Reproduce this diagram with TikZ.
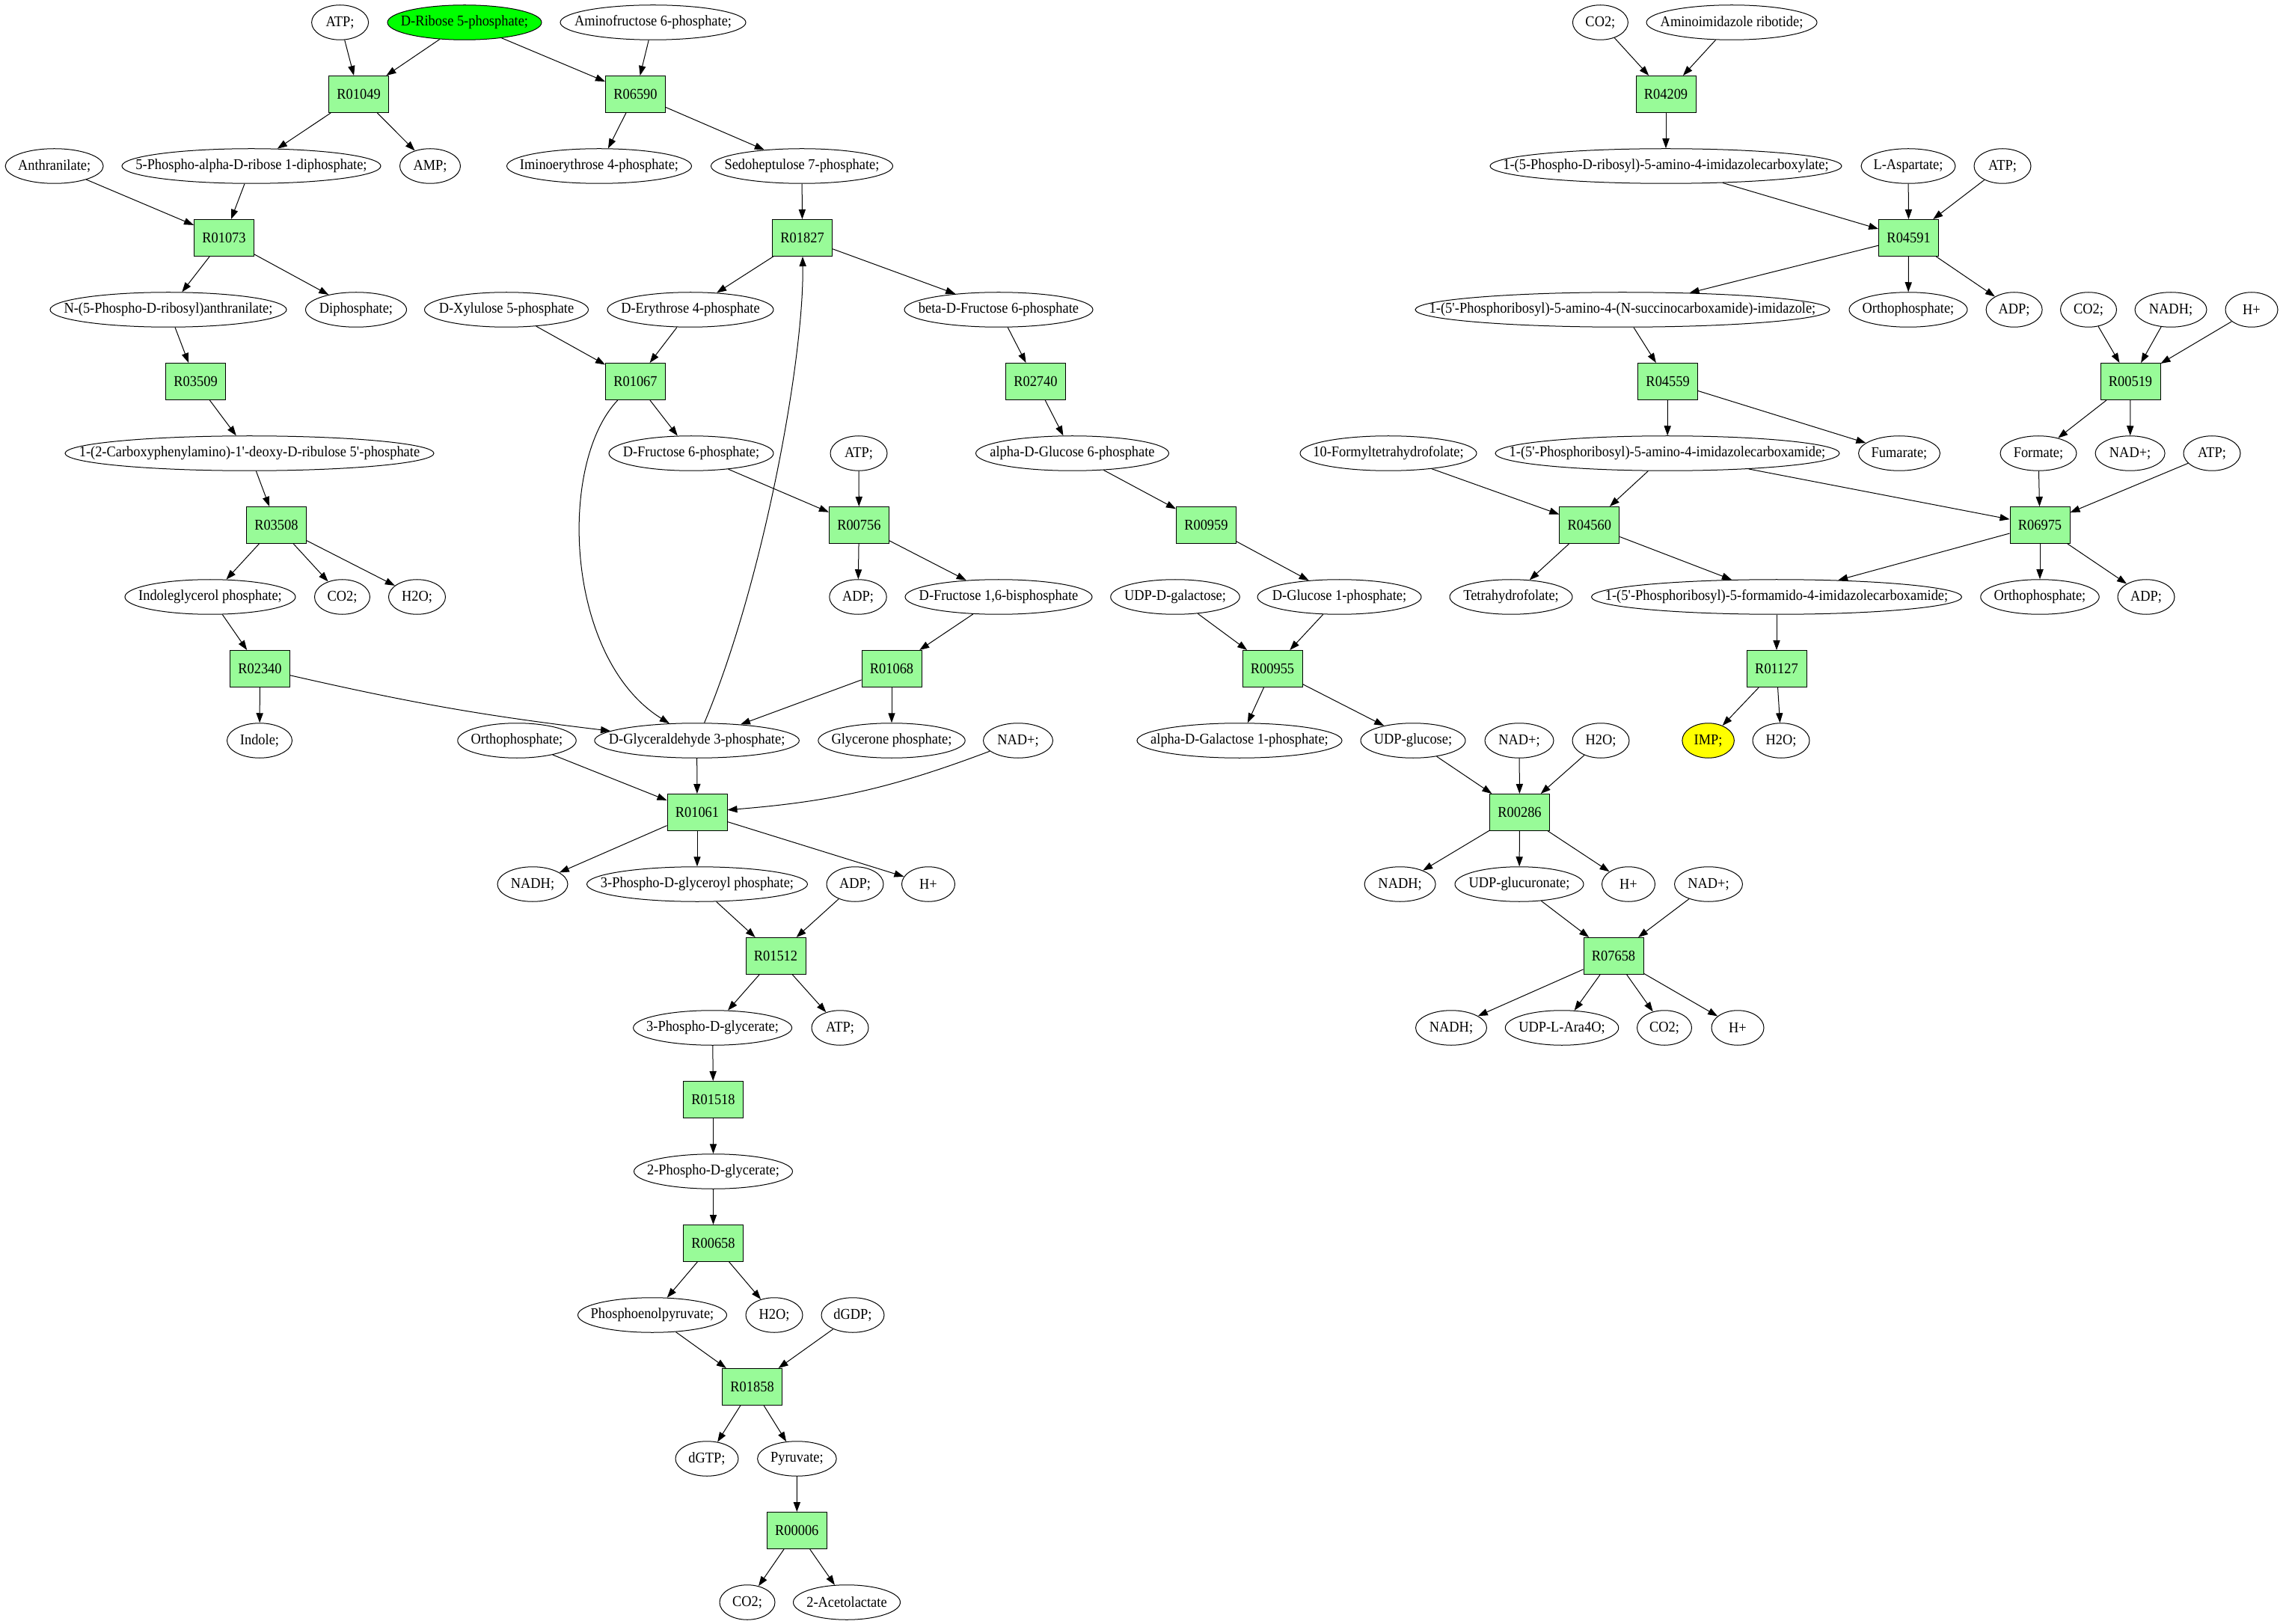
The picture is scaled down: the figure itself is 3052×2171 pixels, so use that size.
\documentclass[tikz,border=0pt]{standalone}
\usepackage{fontspec}
\setmainfont{Liberation Serif}[FakeStretch=0.92]
\usetikzlibrary{shapes.geometric,arrows.meta}
\definecolor{boxgreen}{HTML}{98FB98}
\definecolor{rgreen}{HTML}{00FF00}
\definecolor{impyellow}{HTML}{FFFF00}
\newcommand\lbl[1]{\makebox[0pt]{#1}}
\newcommand\qs{\textquotesingle}
\begin{document}
\begin{tikzpicture}[x=0.5pt,y=-0.5pt,
  met/.style={ellipse,draw,line width=0.5pt,inner sep=0pt,minimum height=23.25pt,font=\fontsize{10}{12}\selectfont},
  ew/.style={minimum width=#1*0.5pt},
  rxn/.style={rectangle,draw,fill=boxgreen,line width=0.5pt,inner sep=0pt,minimum width=40pt,minimum height=24.5pt,font=\fontsize{10}{12}\selectfont},
  arr/.style={line width=0.5pt,-{Triangle[length=6.5pt,width=4.6pt]}}]
\useasboundingbox (0,0) rectangle (3052,2171);
% row 0
\node[met,ew=76] (atpA) at (454.6,30) {\lbl{ATP;}};
\node[met,ew=206,fill=rgreen] (r5p) at (621,30) {\lbl{D-Ribose 5-phosphate;}};
\node[met,ew=248] (af6p) at (873,30) {\lbl{Aminofructose 6-phosphate;}};
\node[met,ew=74] (co2A) at (2139.4,30) {\lbl{CO2;}};
\node[met,ew=228] (air) at (2315,30) {\lbl{Aminoimidazole ribotide;}};
% row 1
\node[rxn] (R01049) at (479.6,126) {R01049};
\node[rxn] (R06590) at (849.5,126) {R06590};
\node[rxn] (R04209) at (2227,126) {R04209};
% row 2
\node[met,ew=131] (anth) at (72.6,222) {\lbl{Anthranilate;}};
\node[met,ew=346] (prpp) at (336,222) {\lbl{5-Phospho-alpha-D-ribose 1-diphosphate;}};
\node[met,ew=81] (amp) at (575,222) {\lbl{AMP;}};
\node[met,ew=247] (ie4p) at (801,222) {\lbl{Iminoerythrose 4-phosphate;}};
\node[met,ew=243] (s7p) at (1072,222) {\lbl{Sedoheptulose 7-phosphate;}};
\node[met,ew=470] (cair) at (2227,222) {\lbl{1-(5-Phospho-D-ribosyl)-5-amino-4-imidazolecarboxylate;}};
\node[met,ew=126] (asp) at (2551,222) {\lbl{L-Aspartate;}};
\node[met,ew=76] (atpB) at (2677,222) {\lbl{ATP;}};
% row 3
\node[rxn] (R01073) at (299.5,318) {R01073};
\node[rxn] (R01827) at (1072.6,318) {R01827};
\node[rxn] (R04591) at (2551.6,318) {R04591};
% row 4
\node[met,ew=316] (prant) at (225,414) {\lbl{N-(5-Phospho-D-ribosyl)anthranilate;}};
\node[met,ew=135] (ppi) at (476,414) {\lbl{Diphosphate;}};
\node[met,ew=219] (xu5p) at (677,414) {\lbl{D-Xylulose 5-phosphate}};
\node[met,ew=222] (e4p) at (923,414) {\lbl{D-Erythrose 4-phosphate}};
\node[met,ew=252] (bf6p) at (1335,414) {\lbl{beta-D-Fructose 6-phosphate}};
\node[met,ew=554] (saicar) at (2169,414) {\lbl{1-(5\qs-Phosphoribosyl)-5-amino-4-(N-succinocarboxamide)-imidazole;}};
\node[met,ew=158] (piA) at (2551,414) {\lbl{Orthophosphate;}};
\node[met,ew=75] (adpA) at (2692.6,414) {\lbl{ADP;}};
\node[met,ew=75] (co2B) at (2792,414) {\lbl{CO2;}};
\node[met,ew=96] (nadhA) at (2902,414) {\lbl{NADH;}};
\node[met,ew=70] (hA) at (3010,414) {\lbl{H+}};
% row 5
\node[rxn] (R03509) at (261.6,510) {R03509};
\node[rxn] (R01067) at (849.5,510) {R01067};
\node[rxn] (R02740) at (1384.4,510) {R02740};
\node[rxn] (R04559) at (2229.6,510) {R04559};
\node[rxn] (R00519) at (2848,510) {R00519};
% row 6
\node[met,ew=493] (cdrp) at (333.5,606) {\lbl{1-(2-Carboxyphenylamino)-1\qs-deoxy-D-ribulose 5\qs-phosphate}};
\node[met,ew=220] (f6p) at (924,606) {\lbl{D-Fructose 6-phosphate;}};
\node[met,ew=76] (atpC) at (1148,606) {\lbl{ATP;}};
\node[met,ew=258] (ag6p) at (1433.5,606) {\lbl{alpha-D-Glucose 6-phosphate}};
\node[met,ew=236] (fthf) at (1856,606) {\lbl{10-Formyltetrahydrofolate;}};
\node[met,ew=460] (aicar) at (2229,606) {\lbl{1-(5\qs-Phosphoribosyl)-5-amino-4-imidazolecarboxamide;}};
\node[met,ew=109] (fum) at (2539,606) {\lbl{Fumarate;}};
\node[met,ew=102] (formate) at (2725,606) {\lbl{Formate;}};
\node[met,ew=93] (nadA) at (2847.6,606) {\lbl{NAD+;}};
\node[met,ew=76] (atpD) at (2957,606) {\lbl{ATP;}};
% row 7
\node[rxn] (R03508) at (369.4,702) {R03508};
\node[rxn] (R00756) at (1148.4,702) {R00756};
\node[rxn] (R00959) at (1612.4,702) {R00959};
\node[rxn] (R04560) at (2124.8,702) {R04560};
\node[rxn] (R06975) at (2727,702) {R06975};
% row 8
\node[met,ew=228] (igp) at (281,798) {\lbl{Indoleglycerol phosphate;}};
\node[met,ew=74] (co2C) at (457.5,798) {\lbl{CO2;}};
\node[met,ew=76] (h2oA) at (557.5,798) {\lbl{H2O;}};
\node[met,ew=76.5] (adpB) at (1147,798) {\lbl{ADP;}};
\node[met,ew=250] (fbp) at (1335,798) {\lbl{D-Fructose 1,6-bisphosphate}};
\node[met,ew=172.6] (udpgal) at (1571,798) {\lbl{UDP-D-galactose;}};
\node[met,ew=219] (g1p) at (1790.5,798) {\lbl{D-Glucose 1-phosphate;}};
\node[met,ew=164] (thf) at (2020,798) {\lbl{Tetrahydrofolate;}};
\node[met,ew=495] (faicar) at (2375,798) {\lbl{1-(5\qs-Phosphoribosyl)-5-formamido-4-imidazolecarboxamide;}};
\node[met,ew=158.5] (piB) at (2727,798) {\lbl{Orthophosphate;}};
\node[met,ew=76] (adpC) at (2869,798) {\lbl{ADP;}};
% row 9
\node[rxn] (R02340) at (347.5,894) {R02340};
\node[rxn] (R01068) at (1192,894) {R01068};
\node[rxn] (R00955) at (1701,894) {R00955};
\node[rxn] (R01127) at (2375,894) {R01127};
% row 10
\node[met,ew=87] (indole) at (347,990) {\lbl{Indole;}};
\node[met,ew=158.5] (piC) at (691,990) {\lbl{Orthophosphate;}};
\node[met,ew=273.6] (gap) at (931.6,990) {\lbl{D-Glyceraldehyde 3-phosphate;}};
\node[met,ew=196.4] (dhap) at (1192,990) {\lbl{Glycerone phosphate;}};
\node[met,ew=93] (nadB) at (1361,990) {\lbl{NAD+;}};
\node[met,ew=274] (agal1p) at (1657,990) {\lbl{alpha-D-Galactose 1-phosphate;}};
\node[met,ew=140] (udpglc) at (1889,990) {\lbl{UDP-glucose;}};
\node[met,ew=92] (nadC) at (2031,990) {\lbl{NAD+;}};
\node[met,ew=76] (h2oB) at (2140,990) {\lbl{H2O;}};
\node[met,ew=69.5,fill=impyellow] (imp) at (2283.6,990) {\lbl{IMP;}};
\node[met,ew=76] (h2oC) at (2381,990) {\lbl{H2O;}};
% row 11
\node[rxn] (R01061) at (932,1086) {R01061};
\node[rxn] (R00286) at (2031.5,1086) {R00286};
% row 12
\node[met,ew=94] (nadhB) at (712,1182) {\lbl{NADH;}};
\node[met,ew=295] (bpg) at (932,1182) {\lbl{3-Phospho-D-glyceroyl phosphate;}};
\node[met,ew=76] (adpD) at (1143,1182) {\lbl{ADP;}};
\node[met,ew=71] (hB) at (1241,1182) {\lbl{H+}};
\node[met,ew=95] (nadhC) at (1871.6,1182) {\lbl{NADH;}};
\node[met,ew=172] (udpgca) at (2031,1182) {\lbl{UDP-glucuronate;}};
\node[met,ew=71] (hC) at (2177,1182) {\lbl{H+}};
\node[met,ew=91] (nadD) at (2284,1182) {\lbl{NAD+;}};
% row 13
\node[rxn] (R01512) at (1037,1278) {R01512};
\node[rxn] (R07658) at (2157,1278) {R07658};
% row 14
\node[met,ew=212] (pg3) at (952.6,1374) {\lbl{3-Phospho-D-glycerate;}};
\node[met,ew=76] (atpE) at (1123,1374) {\lbl{ATP;}};
\node[met,ew=95] (nadhD) at (1940,1374) {\lbl{NADH;}};
\node[met,ew=151.5] (ara4o) at (2088,1374) {\lbl{UDP-L-Ara4O;}};
\node[met,ew=73] (co2D) at (2225,1374) {\lbl{CO2;}};
\node[met,ew=70] (hD) at (2323,1374) {\lbl{H+}};
% rows 15-22
\node[rxn] (R01518) at (953.5,1470) {R01518};
\node[met,ew=212] (pg2) at (953.5,1566) {\lbl{2-Phospho-D-glycerate;}};
\node[rxn] (R00658) at (953.5,1662) {R00658};
\node[met,ew=199] (pep) at (872,1758) {\lbl{Phosphoenolpyruvate;}};
\node[met,ew=76] (h2oD) at (1035,1758) {\lbl{H2O;}};
\node[met,ew=84] (dgdp) at (1140,1758) {\lbl{dGDP;}};
\node[rxn] (R01858) at (1005.6,1854) {R01858};
\node[met,ew=84] (dgtp) at (945,1950) {\lbl{dGTP;}};
\node[met,ew=105.6] (pyr) at (1065.4,1950) {\lbl{Pyruvate;}};
\node[rxn] (R00006) at (1065.3,2046) {R00006};
\node[met,ew=74] (co2E) at (999,2142) {\lbl{CO2;}};
\node[met,ew=143] (acl) at (1132,2142) {\lbl{2-Acetolactate}};
% edges
\draw[arr] (atpA) -- (R01049);
\draw[arr] (r5p) -- (R01049);
\draw[arr] (r5p) -- (R06590);
\draw[arr] (af6p) -- (R06590);
\draw[arr] (R01049) -- (prpp);
\draw[arr] (R01049) -- (amp);
\draw[arr] (R06590) -- (ie4p);
\draw[arr] (R06590) -- (s7p);
\draw[arr] (anth) -- (R01073);
\draw[arr] (prpp) -- (R01073);
\draw[arr] (s7p) -- (R01827);
\draw[arr] (R01073) -- (prant);
\draw[arr] (R01073) -- (ppi);
\draw[arr] (R01827) -- (e4p);
\draw[arr] (R01827) -- (bf6p);
\draw[arr] (prant) -- (R03509);
\draw[arr] (xu5p) -- (R01067);
\draw[arr] (e4p) -- (R01067);
\draw[arr] (bf6p) -- (R02740);
\draw[arr] (R03509) -- (cdrp);
\draw[arr] (R01067) -- (f6p);
\draw[arr] (R01067) .. controls (745,620) and (755,880) .. (gap);
\draw[arr] (R02740) -- (ag6p);
\draw[arr] (cdrp) -- (R03508);
\draw[arr] (f6p) -- (R00756);
\draw[arr] (atpC) -- (R00756);
\draw[arr] (ag6p) -- (R00959);
\draw[arr] (R03508) -- (igp);
\draw[arr] (R03508) -- (co2C);
\draw[arr] (R03508) -- (h2oA);
\draw[arr] (R00756) -- (adpB);
\draw[arr] (R00756) -- (fbp);
\draw[arr] (R00959) -- (g1p);
\draw[arr] (igp) -- (R02340);
\draw[arr] (fbp) -- (R01068);
\draw[arr] (udpgal) -- (R00955);
\draw[arr] (g1p) -- (R00955);
\draw[arr] (R02340) -- (indole);
\draw[arr] (R02340) to[bend right=3] (gap);
\draw[arr] (R01068) -- (gap);
\draw[arr] (R01068) -- (dhap);
\draw[arr] (R00955) -- (agal1p);
\draw[arr] (R00955) -- (udpglc);
\draw[arr] (gap) .. controls (1020,780) and (1075,480) .. (R01827);
\draw[arr] (piC) -- (R01061);
\draw[arr] (gap) -- (R01061);
\draw[arr] (nadB) to[bend left=8] (R01061);
\draw[arr] (R01061) -- (nadhB);
\draw[arr] (R01061) -- (bpg);
\draw[arr] (R01061) -- (hB);
\draw[arr] (udpglc) -- (R00286);
\draw[arr] (nadC) -- (R00286);
\draw[arr] (h2oB) -- (R00286);
\draw[arr] (R00286) -- (nadhC);
\draw[arr] (R00286) -- (udpgca);
\draw[arr] (R00286) -- (hC);
\draw[arr] (bpg) -- (R01512);
\draw[arr] (adpD) -- (R01512);
\draw[arr] (udpgca) -- (R07658);
\draw[arr] (nadD) -- (R07658);
\draw[arr] (R01512) -- (pg3);
\draw[arr] (R01512) -- (atpE);
\draw[arr] (R07658) -- (nadhD);
\draw[arr] (R07658) -- (ara4o);
\draw[arr] (R07658) -- (co2D);
\draw[arr] (R07658) -- (hD);
\draw[arr] (pg3) -- (R01518);
\draw[arr] (R01518) -- (pg2);
\draw[arr] (pg2) -- (R00658);
\draw[arr] (R00658) -- (pep);
\draw[arr] (R00658) -- (h2oD);
\draw[arr] (pep) -- (R01858);
\draw[arr] (dgdp) -- (R01858);
\draw[arr] (R01858) -- (dgtp);
\draw[arr] (R01858) -- (pyr);
\draw[arr] (pyr) -- (R00006);
\draw[arr] (R00006) -- (co2E);
\draw[arr] (R00006) -- (acl);
% right part
\draw[arr] (co2A) -- (R04209);
\draw[arr] (air) -- (R04209);
\draw[arr] (R04209) -- (cair);
\draw[arr] (cair) -- (R04591);
\draw[arr] (asp) -- (R04591);
\draw[arr] (atpB) -- (R04591);
\draw[arr] (R04591) -- (saicar);
\draw[arr] (R04591) -- (piA);
\draw[arr] (R04591) -- (adpA);
\draw[arr] (saicar) -- (R04559);
\draw[arr] (co2B) -- (R00519);
\draw[arr] (nadhA) -- (R00519);
\draw[arr] (hA) -- (R00519);
\draw[arr] (R04559) -- (aicar);
\draw[arr] (R04559) -- (fum);
\draw[arr] (R00519) -- (formate);
\draw[arr] (R00519) -- (nadA);
\draw[arr] (fthf) -- (R04560);
\draw[arr] (aicar) -- (R04560);
\draw[arr] (aicar) -- (R06975);
\draw[arr] (formate) -- (R06975);
\draw[arr] (atpD) -- (R06975);
\draw[arr] (R04560) -- (thf);
\draw[arr] (R04560) -- (faicar);
\draw[arr] (R06975) -- (faicar);
\draw[arr] (R06975) -- (piB);
\draw[arr] (R06975) -- (adpC);
\draw[arr] (faicar) -- (R01127);
\draw[arr] (R01127) -- (imp);
\draw[arr] (R01127) -- (h2oC);
\end{tikzpicture}
\end{document}
